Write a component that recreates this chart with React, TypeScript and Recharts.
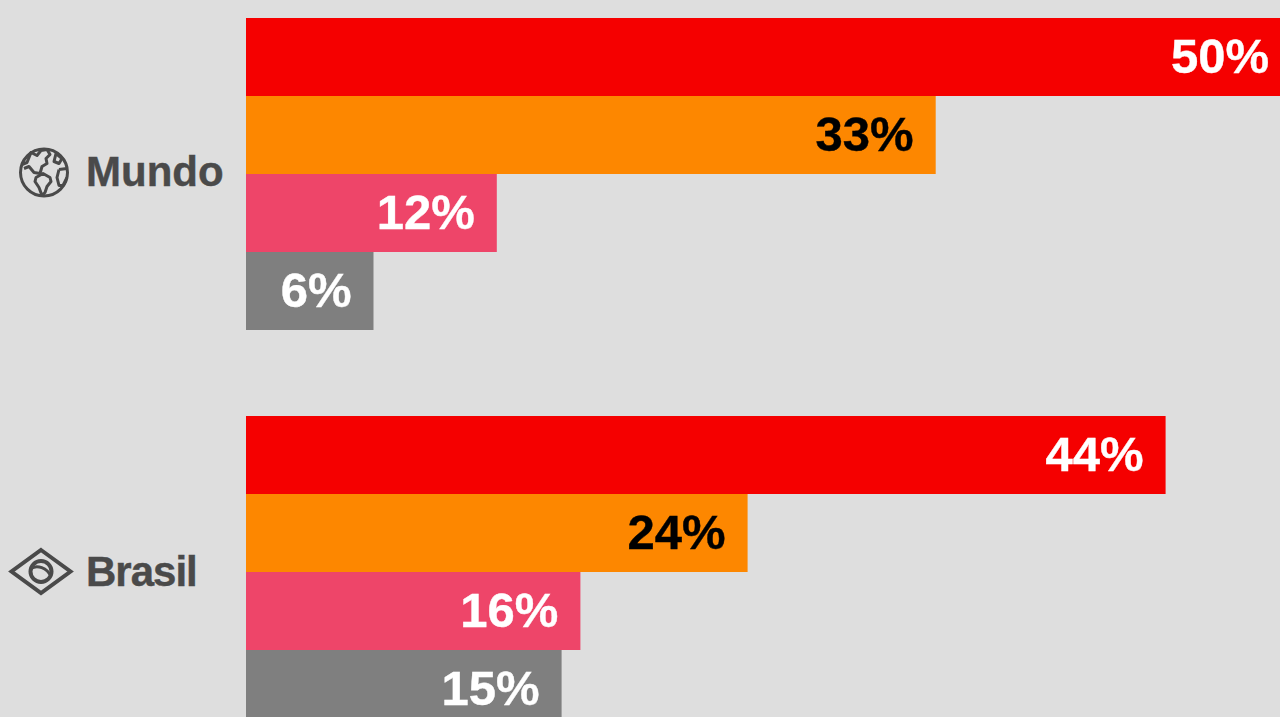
import * as React from "react";
import { BarChart, Bar, XAxis, YAxis, LabelList } from "recharts";

const regions = ["Mundo", "Brasil"];
const redValues = [50, 44];
const orangeValues = [33, 24];
const pinkValues = [12, 16];
const greyValues = [6.1, 15.1];

const rows = regions.map((region, i) => ({
  region,
  red: redValues[i],
  orange: orangeValues[i],
  pink: pinkValues[i],
  grey: greyValues[i],
}));

const INK = "#4a4a4a";

// the chart sits 26px above the page, the ticks draw in chart coordinates
function GlobeIcon({ y }: { y: number }) {
  return (
    <g transform={`translate(44,${y - 1})`} fill="none" stroke={INK} strokeWidth={3} strokeLinejoin="round">
      <circle r={23.5} />
      <path d="M-22 -8 L-17 -10 L-13 -20 L-7 -17 L-3 -22 L3 -23 L6 -18 L2 -14 L3 -9 L-2 -6 L-4 1 L-10 0 L-15 -6 L-20 -4" />
      <path d="M-8 5 L-1 1 L6 5 L7 9 L3 14 L1 20 L-2 23 L-5 15 L-9 9 Z" />
      <path d="M12 -19 L18 -14 L15 -9 L10 -11 Z" />
      <path d="M15 -3 L23 -4 M23 5 L19 13 L15 13 L13 5 L15 -3" />
    </g>
  );
}

function BrasilIcon({ y }: { y: number }) {
  return (
    <g transform={`translate(41,${y})`} fill="none" stroke={INK} strokeWidth={4}>
      <path d="M0 -21.5 L29.5 0 L0 21.5 L-29.5 0 Z" strokeLinejoin="miter" />
      <circle r={10.5} />
      <path d="M-10 -3 C-4 -7 6 -4 10 5" strokeWidth={3} />
    </g>
  );
}

function RegionTick({ y, payload }: any) {
  const isWorld = payload.value === "Mundo";
  return (
    <g>
      {isWorld ? <GlobeIcon y={y} /> : <BrasilIcon y={y} />}
      <text
        x={86}
        y={y}
        dy={isWorld ? 12 : 14}
        fill={INK}
        stroke={INK}
        strokeWidth={0.4}
        fontFamily="Liberation Sans"
        fontWeight={700}
        fontSize={42}
        letterSpacing={isWorld ? 0 : -1}
      >
        {payload.value}
      </text>
    </g>
  );
}

function series(key: string, color: string, labelColor: string) {
  return (
    <Bar dataKey={key} fill={color} isAnimationActive={false}>
      <LabelList
        dataKey={key}
        position="insideRight"
        offset={22}
        formatter={(v: any) => `${Math.round(Number(v))}%`}
        fill={labelColor}
        stroke={labelColor}
        strokeWidth={0.4}
        dy={-1}
        fontFamily="Liberation Sans"
        fontWeight={700}
        fontSize={49}
      />
    </Bar>
  );
}

export default function App() {
  return (
    <div
      style={{
        position: "absolute",
        left: 0,
        top: 0,
        width: 1280,
        height: 717,
        overflow: "hidden",
        background: "#dedede",
      }}
    >
      <div style={{ position: "absolute", left: 0, top: -26 }}>
        <BarChart
          width={1291}
          height={797}
          data={rows}
          layout="vertical"
          barCategoryGap={43.5}
          barGap={0}
          margin={{ top: 0.5, right: 0, bottom: 0.5, left: 0 }}
        >
          <XAxis type="number" domain={[0, 50]} hide />
          <YAxis
            type="category"
            dataKey="region"
            width={246}
            axisLine={false}
            tickLine={false}
            tick={<RegionTick />}
          />
          {series("red", "#f50000", "#ffffff")}
          {series("orange", "#fd8700", "#000000")}
          {series("pink", "#ee4569", "#ffffff")}
          {series("grey", "#7f7f7f", "#ffffff")}
        </BarChart>
      </div>
    </div>
  );
}
